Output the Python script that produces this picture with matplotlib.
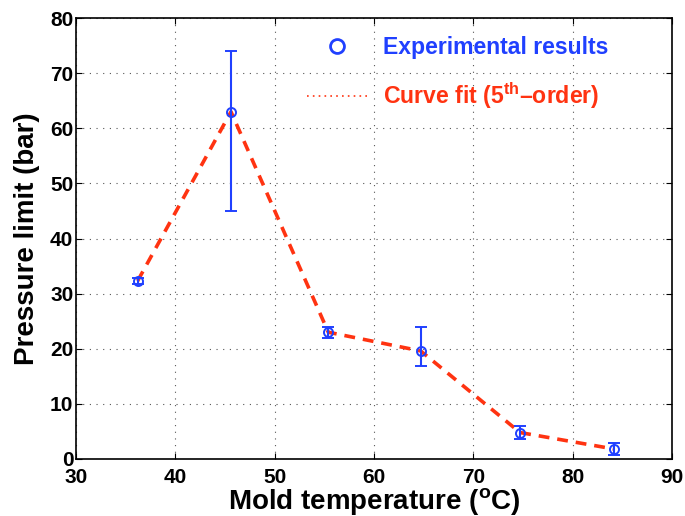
import matplotlib
matplotlib.use('Agg')
import matplotlib.pyplot as plt
from matplotlib.lines import Line2D

# Data
mold_temp = [36.2, 45.6, 55.4, 64.7, 74.7, 84.2]
pressure = [32.3, 63.0, 23.0, 19.6, 4.8, 1.8]
err_low = [0.6, 18.0, 1.0, 2.7, 1.1, 1.0]
err_high = [0.6, 11.0, 1.0, 4.4, 1.1, 1.1]

x_ticks = [30, 40, 50, 60, 70, 80, 90]
y_ticks = [0, 10, 20, 30, 40, 50, 60, 70, 80]

blue = '#2040ff'
red = '#ff3311'

plt.rcParams['font.family'] = ['Liberation Sans', 'DejaVu Sans']
plt.rcParams['font.weight'] = 'bold'
plt.rcParams['mathtext.fontset'] = 'custom'
plt.rcParams['mathtext.rm'] = 'Liberation Sans:bold'
plt.rcParams['mathtext.default'] = 'rm'

fig = plt.figure(figsize=(6.85, 5.16), dpi=100)
ax = fig.add_axes([0.111, 0.1105, 0.87, 0.8545])

# fitted curve (passes through the points)
ax.plot(mold_temp, pressure, color=red, linestyle=(0, (3.0, 2.2)),
        linewidth=2.6, zorder=3)

ax.errorbar(mold_temp, pressure, yerr=[err_low, err_high], fmt='o',
            markerfacecolor='none', markeredgecolor=blue, markersize=6.5,
            markeredgewidth=1.4, ecolor=blue, elinewidth=1.5,
            capsize=4, capthick=1.5, zorder=4)

ax.set_xlim(30, 90)
ax.set_ylim(0, 80)
ax.set_xticks(x_ticks)
ax.set_yticks(y_ticks)
ax.tick_params(direction='in', top=True, right=True, labelsize=15,
               length=4, width=0.8, pad=2)
ax.tick_params(axis='x', pad=6.5)
for lbl in ax.get_xticklabels() + ax.get_yticklabels():
    lbl.set_fontweight('bold')
ax.grid(True, color='#555555', linestyle=(0, (1, 5)), linewidth=0.8)
for sp in ax.spines.values():
    sp.set_linewidth(1.2)

ax.set_xlabel(r'Mold temperature ($^{o}$C)', fontsize=20, fontweight='bold',
              labelpad=-1)
ax.set_ylabel('Pressure limit (bar)', fontsize=20, fontweight='bold',
              labelpad=7)

handles = [
    Line2D([], [], marker='o', linestyle='none', markerfacecolor='none',
           markeredgecolor=blue, markersize=10, markeredgewidth=2),
    Line2D([], [], color=red, linestyle=(0, (1, 2.5)), linewidth=1.2),
]
labels = ['Experimental results', r'Curve fit (5$^{th}$–order)']
leg = ax.legend(handles, labels, loc='upper left',
                bbox_to_anchor=(0.352, 1.006), frameon=False,
                handlelength=2.6, handletextpad=0.7, labelspacing=0.92,
                prop={'weight': 'bold', 'size': 16.6})
for txt, c in zip(leg.get_texts(), [blue, red]):
    txt.set_color(c)

fig.savefig('out.png', dpi=100)
